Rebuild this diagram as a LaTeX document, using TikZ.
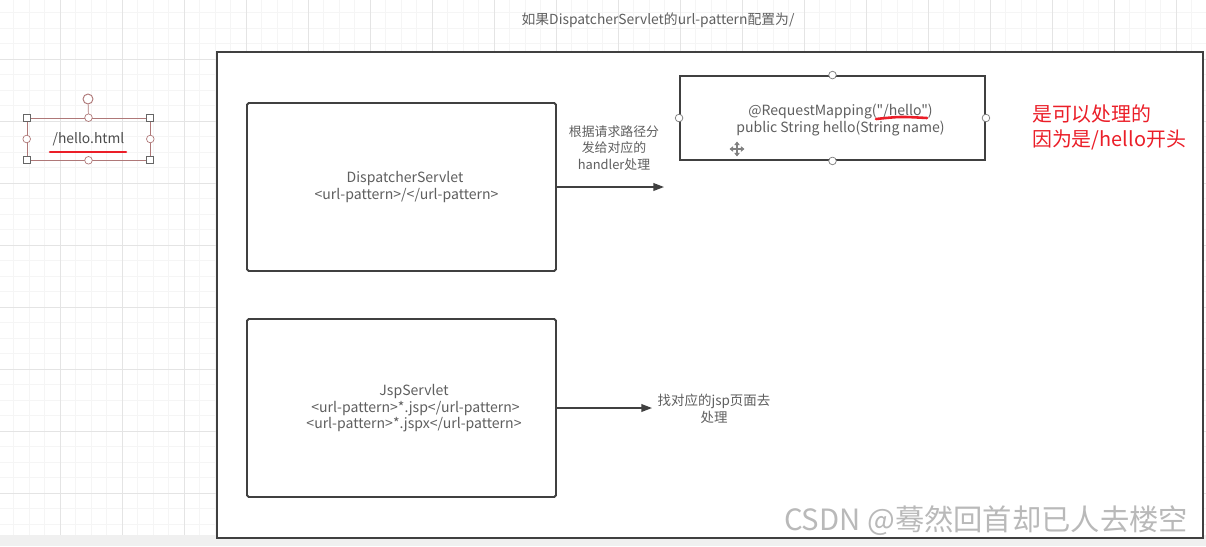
\documentclass[tikz,border=0pt]{standalone}
\usepackage{fontspec}
\setmainfont[Ligatures=TeXOff]{Noto Sans CJK SC}
\usetikzlibrary{arrows.meta}
\definecolor{framegray}{RGB}{64,64,64}
\definecolor{textgray}{RGB}{95,95,95}
\definecolor{handlered}{RGB}{175,120,120}
\definecolor{notered}{RGB}{235,30,40}
\definecolor{gridminor}{RGB}{245,245,245}
\definecolor{gridmajor}{RGB}{228,228,228}

\begin{document}
\begin{tikzpicture}[x=0.03cm, y=-0.03cm,
  box/.style = {draw=framegray, line width=1.6pt, rounded corners=1.5pt},
  txt/.style = {text=textgray, font=\fontsize{12}{14.1}\selectfont, align=center},
  cjktxt/.style = {txt, font=\fontsize{11}{14.1}\selectfont},
  handle/.style = {circle, draw=#1, fill=white, line width=0.6pt, inner sep=0pt, minimum size=6.5pt},
  sqhandle/.style = {draw=framegray!80, fill=white, line width=0.6pt, inner sep=0pt, minimum size=6pt},
  redline/.style = {draw=notered, line width=2.2pt, line cap=round},
  link/.style = {draw=framegray, line width=1.3pt, -{Triangle[length=9pt,width=6.5pt]}}]

\useasboundingbox (0,0) rectangle (1206,546);
\fill[white] (0,0) rectangle (1206,546);
% background grid
\foreach \i in {0,...,78}
    \draw[gridminor, line width=0.5pt] ({-2+15.5*\i},0) -- ({-2+15.5*\i},535);
\foreach \j in {0,...,35}
    \draw[gridminor, line width=0.5pt] (0,{-3+15.5*\j}) -- (1206,{-3+15.5*\j});
\foreach \i in {0,...,19}
    \draw[gridmajor, line width=0.6pt] ({-2+62*\i},0) -- ({-2+62*\i},535);
\foreach \j in {0,...,8}
    \draw[gridmajor, line width=0.6pt] (0,{-3+62*\j}) -- (1206,{-3+62*\j});
\fill[gray!12] (0,535) rectangle (1206,546);

\node[txt, font=\fontsize{11.8}{13}\selectfont] (title) at (658,20) {如果DispatcherServlet的url-pattern配置为/};

% canvas
\draw[framegray, line width=1.9pt, fill=white] (217,52) rectangle (1203,538);

% selected file shape
\node[draw=handlered, line width=0.5pt, minimum width=3.69cm, minimum height=1.26cm,
      text=textgray!80!black, font=\fontsize{11.8}{13}\selectfont] (hellofile) at (88.5,139) {/hello.html};
\node[handle=handlered, minimum size=8.5pt, line width=0.8pt] (rotate) at (88,99) {};
\draw[handlered, line width=0.6pt] (rotate) -- (hellofile.north);
\foreach \a in {north west,north east,south west,south east}
    \node[sqhandle] (hf-\a) at (hellofile.\a) {};
\foreach \a in {north,south,east,west}
    \node[handle=handlered] (hh-\a) at (hellofile.\a) {};
\draw[redline] (50,152) -- (126,152);

% servlets
\node[box, minimum width=9.27cm, minimum height=5.04cm] (dispatcher) at (401.5,187) {};
\node[txt] (dispatchertext) at (405,187) {DispatcherServlet\\\ <url-pattern>/</url-pattern>};
\node[box, minimum width=9.27cm, minimum height=5.34cm] (jsp) at (401.5,408) {};
\node[txt] (jsptext) at (414,408.5) {JspServlet\\\ <url-pattern>*.jsp</url-pattern>\\<url-pattern>*.jspx</url-pattern>};

% handler method
\node[draw=framegray, line width=1.6pt, minimum width=9.15cm, minimum height=2.52cm] (mapping) at (832.5,118) {};
\foreach \a in {north,south,east,west}
    \node[handle=framegray!70] (mh-\a) at (mapping.\a) {};
\node[txt] (mappingtext) at (840.5,120) {@RequestMapping("/hello")\\public String hello(String name)};
\draw[redline] (876,119) .. controls (900,116.5) .. (927,118);
\foreach \ang in {0,90,180,270}
    \draw[gray, line width=0.9pt, -{Triangle[length=3pt,width=4.5pt]}] (737,149) -- ++(\ang:7.5);

% connectors
\coordinate (disptip) at (664,187);
\draw[link] (dispatcher.east) -- (disptip);
\node[cjktxt] (routelabel) at (614,148) {根据请求路径分\\发给对应的\\handler处理};
\coordinate (jsptip) at (652,408);
\draw[link] (jsp.east) -- (jsptip);
\node[cjktxt, font=\fontsize{11.5}{14.1}\selectfont] (jsplabel) at (714,409) {找对应的jsp页面去\\处理};

\node[anchor=west, text=notered, font=\fontsize{17}{21.3}\selectfont, align=left] (note) at (1028,127.5) {是可以处理的\\因为是/hello开头};

\node[text=gray!55, font=\fontsize{25}{28}\selectfont] (mark) at (986,521) {CSDN @蓦然回首却已人去楼空};
\end{tikzpicture}
\end{document}
